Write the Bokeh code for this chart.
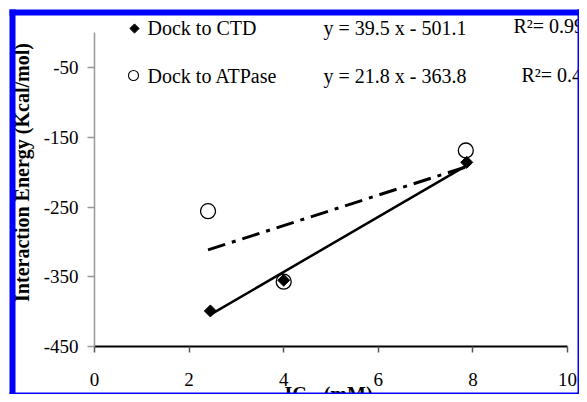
import numpy as np
from bokeh.plotting import figure
from bokeh.models import Label, FixedTicker, Range1d, BoxAnnotation
from bokeh.embed import file_html
from bokeh.resources import INLINE

# ---- data ----
ic50_ctd = [2.45, 4.0, 7.87]
energy_ctd = [-399, -355, -186]
ic50_atp = [2.4, 4.0, 7.85]
energy_atp = [-256, -357, -169]
fit_ctd = (39.5, -501.1)   # slope, intercept
fit_atp = (21.8, -363.8)
r2_ctd = "0.99"
r2_atp = "0.42"
series_names = ["Dock to CTD", "Dock to ATPase"]
x_ticks = [0, 2, 4, 6, 8, 10]
y_ticks = [-450, -350, -250, -150, -50]
x_label = "IC\u2085\u2080 (mM)"
y_label = "Interaction Energy (Kcal/mol)"

FONT = "'Liberation Serif'"
BLUE = "#0000ff"
W, H = 579, 394

# layout: pixel position -> data position (frame fills the whole canvas)
X0_PX, XPX = 94, 47.3          # x=0 at 94 px, 47.3 px per unit
Y0_PX, YPX = 346, 0.6975       # y=-450 at 346 px, px per unit
def dx(px):
    return (px - X0_PX) / XPX
def dy(py):
    return -450 + (Y0_PX - py) / YPX

p = figure(width=W, height=H,
           x_range=Range1d(dx(0), dx(W)), y_range=Range1d(dy(H), dy(0)),
           output_backend="svg", toolbar_location=None,
           min_border_left=0, min_border_top=0,
           min_border_right=0, min_border_bottom=0)
p.border_fill_color = "white"
p.background_fill_color = "white"
p.grid.visible = False
p.outline_line_color = None

# axes
xa = p.xaxis[0]
xa.fixed_location = -450
xa.ticker = FixedTicker(ticks=x_ticks)
xa.bounds = (0, 10)
xa.axis_line_color = "black"
xa.axis_line_width = 2
xa.major_tick_line_color = "#555555"
xa.major_tick_line_width = 1.5
xa.major_tick_in = 0
xa.major_tick_out = 6
xa.minor_tick_line_color = None
xa.major_label_text_font = FONT
xa.major_label_text_font_size = "19px"
xa.major_label_text_color = "black"
xa.major_label_standoff = 20
xa.major_label_overrides = {t: str(t) for t in x_ticks}

ya = p.yaxis[0]
ya.fixed_location = 0
ya.ticker = FixedTicker(ticks=y_ticks)
ya.bounds = (-450, 0)
ya.axis_line_color = "#999999"
ya.axis_line_width = 1.5
ya.major_tick_line_color = "#999999"
ya.major_tick_line_width = 1.5
ya.major_tick_in = 0
ya.major_tick_out = 7
ya.minor_tick_line_color = None
ya.major_label_text_font = FONT
ya.major_label_text_font_size = "19px"
ya.major_label_text_color = "black"
ya.major_label_standoff = 9
ya.major_label_overrides = {t: str(t) for t in y_ticks}

# ATPase circles (drawn first)
p.scatter(ic50_atp, energy_atp, marker="circle", size=15,
          fill_color="white", line_color="black", line_width=1.3)

# trend lines from the fitted equations
xf_ctd = np.array([min(ic50_ctd), max(ic50_ctd)])
p.line(xf_ctd, fit_ctd[0] * xf_ctd + fit_ctd[1], line_color="black", line_width=2.5)
xf_atp = np.array([min(ic50_atp), max(ic50_atp)])
p.line(xf_atp, fit_atp[0] * xf_atp + fit_atp[1], line_color="black",
       line_width=3, line_dash="18 7 4 7")

# CTD diamonds
p.scatter(ic50_ctd, energy_ctd, marker="square", angle=np.pi / 4, size=8.5,
          fill_color="black", line_color="black")

# legend-like text block
p.scatter([dx(134)], [dy(28)], marker="square", angle=np.pi / 4, size=6.5,
          fill_color="black", line_color="black")
p.scatter([dx(133)], [dy(75)], marker="circle", size=10,
          fill_color="white", line_color="black", line_width=1.1)

def txt(px, py, s, **kw):
    lab = Label(x=dx(px), y=dy(py), text=s, text_font=FONT, text_font_size="20px",
                text_color="black", text_baseline="alphabetic", text_align="left", **kw)
    p.add_layout(lab)

txt(147, 27, series_names[0])
txt(147, 75, series_names[1])
txt(323, 27, f"y = {fit_ctd[0]} x - {abs(fit_ctd[1])}")
txt(323, 75, f"y = {fit_atp[0]} x - {abs(fit_atp[1])}")
txt(513, 25, f"R\u00b2= {r2_ctd}")
txt(521, 74, f"R\u00b2= {r2_atp}")

# axis titles
p.add_layout(Label(x=dx(21.3), y=dy(172), text=y_label, angle=np.pi / 2,
                   text_font=FONT, text_font_size="20px", text_font_style="bold",
                   text_align="center", text_baseline="middle", text_color="black"))
p.add_layout(Label(x=dx(328), y=dy(393), text=x_label,
                   text_font=FONT, text_font_size="20px", text_font_style="bold",
                   text_align="center", text_baseline="alphabetic", text_color="black"))

# blue frame around the chart (thick left/top, thin right/bottom)
def bar(l, r, t, b):
    p.add_layout(BoxAnnotation(left=dx(l), right=dx(r), top=dy(t), bottom=dy(b),
                               fill_color=BLUE, fill_alpha=1.0, line_color=None))
bar(9, 15, 9, H)
bar(9, W, 9, 15)
bar(W - 2, W, 9, H)
bar(9, W, H - 2, H)

open("out.html", "w").write(file_html(p, INLINE))
